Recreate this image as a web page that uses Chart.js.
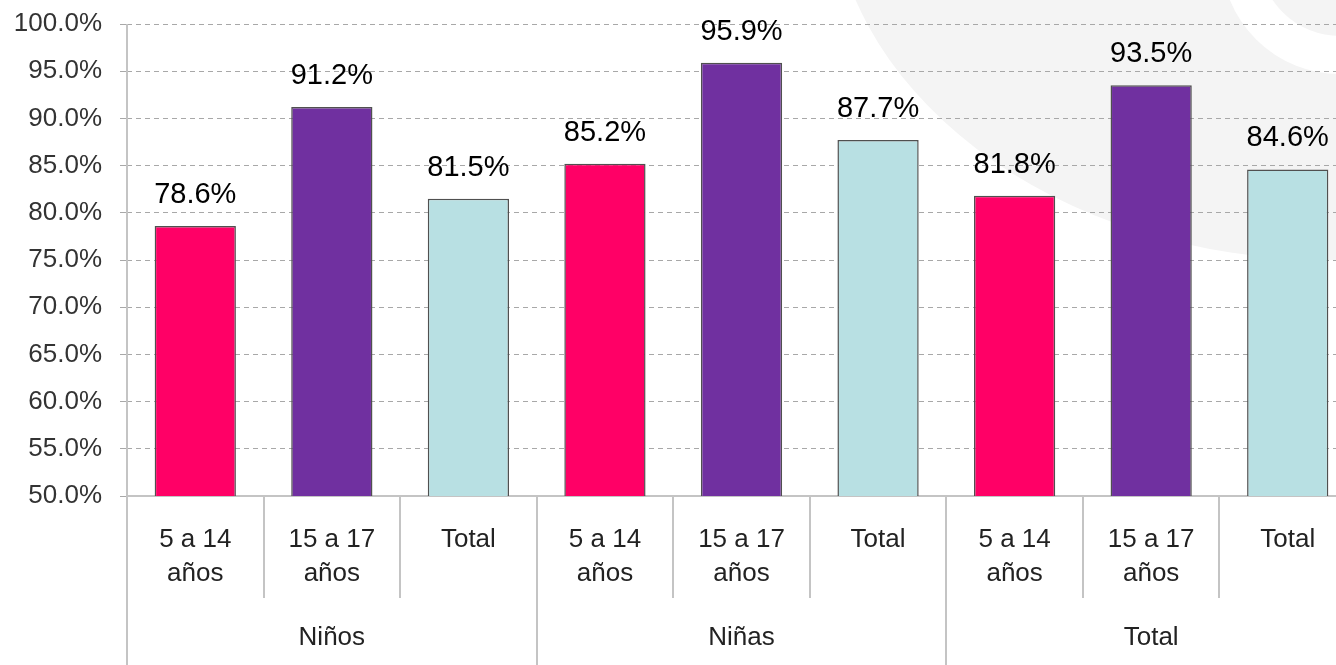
<!DOCTYPE html>
<html>
<head>
<meta charset="utf-8">
<script src="https://cdn.jsdelivr.net/npm/chart.js@4"></script>
<style>
  html, body { margin: 0; padding: 0; background: #fff; overflow: hidden; }
  #wrap { width: 1356px; height: 665px; }
</style>
</head>
<body>
<div id="wrap"><canvas id="myChart" width="1356" height="665"></canvas></div>
<script>
// data
const categories = [
  ["5 a 14", "años"], ["15 a 17", "años"], "Total",
  ["5 a 14", "años"], ["15 a 17", "años"], "Total",
  ["5 a 14", "años"], ["15 a 17", "años"], "Total",
];
const groups = ["Niños", "Niñas", "Total"];
const values = [78.6, 91.2, 81.5, 85.2, 95.9, 87.7, 81.8, 93.5, 84.6];
const barColors = ["#ff0066", "#7030a0", "#b8e0e3"];
const yTicks = { min: 50, max: 100, step: 5 };

const lineGray = "#c4c4c4";
const fontFamily = "'Liberation Sans', Arial, sans-serif";

// faint logo in the background, top right
const watermark = {
  id: "watermark",
  beforeDraw(chart) {
    const ctx = chart.ctx;
    ctx.save();
    ctx.fillStyle = "#f4f4f4";
    ctx.beginPath();
    ctx.ellipse(1330, -120, 500, 380, 0, 0, Math.PI * 2);
    ctx.fill();
    // white swoosh cutting the logo
    ctx.strokeStyle = "#ffffff";
    ctx.lineWidth = 38;
    ctx.beginPath();
    ctx.arc(1340, -45, 100, Math.PI / 2, Math.PI);
    ctx.stroke();
    ctx.restore();
  },
};

// separators under the axis, group names, long y axis line
const groupAxis = {
  id: "groupAxis",
  afterDraw(chart) {
    const ctx = chart.ctx;
    const x = chart.scales.x;
    const y = chart.scales.y;
    const bottom = x.bottom;
    const step = x.width / categories.length;
    ctx.save();
    ctx.strokeStyle = lineGray;
    ctx.lineWidth = 2;
    ctx.setLineDash([]);
    ctx.beginPath();
    ctx.moveTo(x.left, y.top);
    ctx.lineTo(x.left, bottom);
    ctx.stroke();
    for (let i = 1; i <= categories.length; i++) {
      const px = Math.round(x.left + i * step);
      const end = i % 3 === 0 ? bottom : x.top + 102;
      ctx.beginPath();
      ctx.moveTo(px, x.top);
      ctx.lineTo(px, end);
      ctx.stroke();
    }
    ctx.fillStyle = "#222";
    ctx.font = "26px " + fontFamily;
    ctx.textAlign = "center";
    ctx.textBaseline = "middle";
    groups.forEach((name, i) => {
      const cx = x.left + (i * 3 + 1.5) * step;
      ctx.fillText(name, cx, 638);
    });
    ctx.restore();
  },
};

// value labels above the bars
const barLabels = {
  id: "barLabels",
  afterDatasetsDraw(chart) {
    const ctx = chart.ctx;
    const meta = chart.getDatasetMeta(0);
    ctx.save();
    ctx.fillStyle = "#000";
    ctx.font = "29px " + fontFamily;
    ctx.textAlign = "center";
    ctx.textBaseline = "middle";
    meta.data.forEach((bar, i) => {
      ctx.fillText(values[i].toFixed(1) + "%", bar.x, bar.y - 31);
    });
    ctx.restore();
  },
};

const ctx = document.getElementById("myChart").getContext("2d");
new Chart(ctx, {
  type: "bar",
  data: {
    labels: categories,
    datasets: [
      {
        data: values,
        backgroundColor: values.map((v, i) => barColors[i % 3]),
        borderColor: "#505050",
        borderWidth: 1.5,
        borderSkipped: "bottom",
        categoryPercentage: 1,
        barPercentage: 0.595,
      },
    ],
  },
  options: {
    responsive: false,
    animation: false,
    devicePixelRatio: 1,
    layout: { padding: { top: 24, right: 0, left: 0, bottom: 0 } },
    plugins: {
      legend: { display: false },
      tooltip: { enabled: false },
    },
    scales: {
      x: {
        grid: { display: false },
        border: { color: lineGray, width: 2 },
        ticks: {
          color: "#222",
          font: { family: fontFamily, size: 26, lineHeight: 1.3 },
          padding: 19,
          maxRotation: 0,
          autoSkip: false,
        },
        afterFit(scale) {
          scale.height = 169;
          scale.paddingLeft = 0;
          scale.paddingRight = 0;
        },
      },
      y: {
        min: yTicks.min,
        max: yTicks.max,
        ticks: {
          stepSize: yTicks.step,
          color: "#333",
          padding: 18,
          font: { family: fontFamily, size: 26 },
          callback: (v) => v.toFixed(1) + "%",
        },
        grid: {
          color: "#a8a8a8",
          lineWidth: 1,
          tickLength: 7,
          tickColor: "#a8a8a8",
        },
        border: { display: false, dash: [5, 4] },
        afterFit(scale) {
          scale.width = 127;
          scale.paddingTop = 0;
          scale.paddingBottom = 0;
        },
      },
    },
  },
  plugins: [watermark, groupAxis, barLabels],
});
</script>
</body>
</html>
